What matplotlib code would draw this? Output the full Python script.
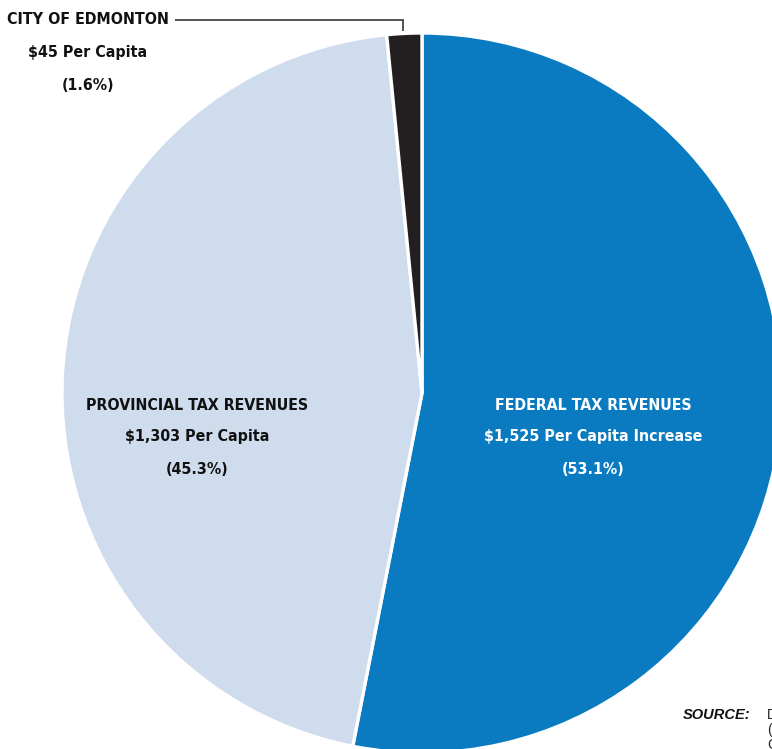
import matplotlib
matplotlib.use("Agg")
import matplotlib.pyplot as plt

# Per-capita tax revenue shares
labels = ["FEDERAL TAX REVENUES", "PROVINCIAL TAX REVENUES", "CITY OF EDMONTON"]
per_capita = [1525, 1303, 45]
shares = [53.1, 45.3, 1.6]
colors = ["#0a7bc1", "#cfdcee", "#231f20"]
sublines = ["$1,525 Per Capita Increase", "$1,303 Per Capita", "$45 Per Capita"]

FONT = ["DejaVu Sans"]

W, H = 772, 749
fig = plt.figure(figsize=(W / 100, H / 100), dpi=100)
ax = fig.add_axes([0, 0, 1, 1])

cx, cy, r = 422, H - 393, 360
ax.pie(per_capita, colors=colors, startangle=90, counterclock=False,
       center=(cx, cy), radius=r, frame=True,
       wedgeprops=dict(edgecolor="white", linewidth=2.4))
ax.set_xlim(0, W)
ax.set_ylim(0, H)
ax.set_aspect("auto")
ax.axis("off")

txt = dict(family=FONT, fontstretch="condensed", fontweight="bold",
           fontsize=11.4, ha="center", va="center")

# Federal label
fx = 593
for i, s in enumerate([labels[0], sublines[0], f"({shares[0]}%)"]):
    ax.text(fx, H - (405 + 32 * i), s, color="white", **txt)

# Provincial label
px = 197
for i, s in enumerate([labels[1], sublines[1], f"({shares[1]}%)"]):
    ax.text(px, H - (405 + 32 * i), s, color="#111111", **txt)

# City label with leader line
tx = 88
for i, s in enumerate([labels[2], sublines[2], f"({shares[2]}%)"]):
    ax.text(tx, H - (20 + 33 * i), s, color="#111111", **txt)
ax.plot([175, 403, 403], [H - 20, H - 20, H - 31], color="#444444",
        lw=1.3, solid_capstyle="butt", solid_joinstyle="miter")

# Source note
ax.text(683, H - 715, "SOURCE:", family=["Liberation Sans", "DejaVu Sans"],
        fontweight="bold", fontstyle="italic", fontsize=10.5,
        ha="left", va="center", color="#111111")
for i, s in enumerate(["D", "(", "C"]):
    ax.text(767, H - (715 + 15 * i), s, family=["Liberation Sans", "DejaVu Sans"],
            fontsize=10, ha="left", va="center", color="#222222")

fig.savefig("out.png", dpi=100)
